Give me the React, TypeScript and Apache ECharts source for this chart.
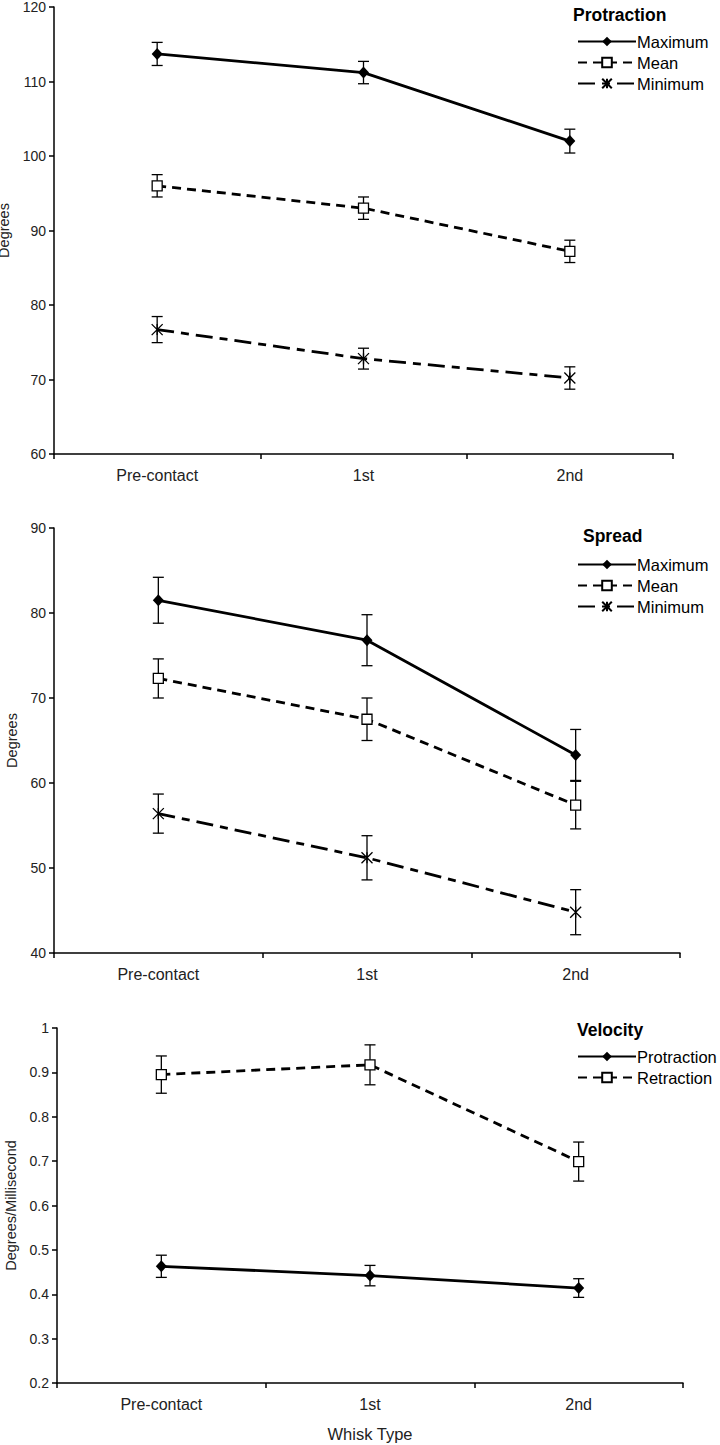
import React, { useEffect, useRef } from "react";
import * as echarts from "echarts";

const categories = ["Pre-contact", "1st", "2nd"];

const protMax = [113.7, 111.2, 102.0];
const protMaxErr = [1.55, 1.5, 1.6];
const protMean = [96.0, 93.0, 87.2];
const protMeanErr = [1.5, 1.5, 1.5];
const protMin = [76.7, 72.8, 70.2];
const protMinErr = [1.75, 1.4, 1.5];

const spreadMax = [81.5, 76.8, 63.3];
const spreadMaxErr = [2.7, 3.0, 3.0];
const spreadMean = [72.3, 67.5, 57.4];
const spreadMeanErr = [2.3, 2.5, 2.8];
const spreadMin = [56.4, 51.2, 44.8];
const spreadMinErr = [2.3, 2.6, 2.65];

const velProt = [0.463, 0.442, 0.414];
const velProtErr = [0.025, 0.023, 0.021];
const velRetr = [0.895, 0.917, 0.699];
const velRetrErr = [0.042, 0.045, 0.044];

const FONT = "'Liberation Sans', Arial, sans-serif";
const STAR = "path://M0,0L10,10M10,0L0,10M5,0L5,10";

function errData(vals: number[], errs: number[]) {
  return vals.map((v, i) => [i, v - errs[i], v + errs[i]]);
}

function errSeries(idx: number, vals: number[], errs: number[]) {
  return {
    type: "custom",
    xAxisIndex: idx,
    yAxisIndex: idx,
    silent: true,
    z: 1,
    data: errData(vals, errs),
    encode: { x: 0, y: [1, 2] },
    renderItem: (params: any, api: any) => {
      const x = api.value(0);
      const lo = api.coord([x, api.value(1)]);
      const hi = api.coord([x, api.value(2)]);
      const cx = lo[0];
      const w = 5.5;
      const style = { stroke: "#000", lineWidth: 1.3 };
      return {
        type: "group",
        children: [
          { type: "line", shape: { x1: cx, y1: lo[1], x2: cx, y2: hi[1] }, style },
          { type: "line", shape: { x1: cx - w, y1: lo[1], x2: cx + w, y2: lo[1] }, style },
          { type: "line", shape: { x1: cx - w, y1: hi[1], x2: cx + w, y2: hi[1] }, style },
        ],
      };
    },
  };
}

const styles: Record<string, any> = {
  max: { symbol: "diamond", symbolSize: [11, 12], lineType: "solid", fill: "#000" },
  mean: { symbol: "rect", symbolSize: 10, lineType: [9, 6], fill: "#fff" },
  min: { symbol: STAR, symbolSize: 11, lineType: [17, 7, 8, 7], fill: "#000" },
};

function lineSeries(idx: number, name: string, vals: number[], kind: string) {
  const s = styles[kind];
  return {
    type: "line",
    name,
    xAxisIndex: idx,
    yAxisIndex: idx,
    data: vals,
    symbol: s.symbol,
    symbolSize: s.symbolSize,
    showAllSymbol: true,
    z: 3,
    lineStyle: { color: "#000", width: 2.8, type: s.lineType },
    itemStyle: { color: s.fill, borderColor: "#000", borderWidth: kind === "max" ? 0 : 1.3 },
  };
}

const grids = [
  { left: 54, top: 7, width: 619, height: 447 },
  { left: 54, top: 528, width: 626, height: 425 },
  { left: 57, top: 1028, width: 626, height: 355 },
];

const yRanges = [
  { min: 60, max: 120, interval: 10, name: "Degrees", gap: 28 },
  { min: 40, max: 90, interval: 10, name: "Degrees", gap: 35 },
  { min: 0.2, max: 1, interval: 0.1, name: "Degrees/Millisecond", gap: 38 },
];

const axisLine = { lineStyle: { color: "#000", width: 1.5 } };
const yLabelStyle = { color: "#222", fontSize: 14, fontFamily: FONT };
const xLabelStyle = { color: "#222", fontSize: 16, fontFamily: FONT };

export default function App() {
  const ref = useRef<HTMLDivElement>(null);
  useEffect(() => {
    document.body.style.margin = "0";
    if (!ref.current) return;
    const chart = echarts.init(ref.current, undefined, { renderer: "svg" });
    const legendPos = [
      { left: 577, top: 33, title: "Protraction", titleTop: 6, titleLeft: 573, names: ["Maximum", "Mean", "Minimum"] },
      { left: 577, top: 556, title: "Spread", titleTop: 527, titleLeft: 583, names: ["Maximum", "Mean", "Minimum"] },
      { left: 577, top: 1048, title: "Velocity", titleTop: 1021, titleLeft: 577, names: ["Protraction", "Retraction"] },
    ];
    const option: any = {
      animation: false,
      backgroundColor: "#fff",
      textStyle: { fontFamily: FONT },
      title: legendPos.map((l) => ({
        text: l.title,
        left: l.titleLeft,
        top: l.titleTop,
        padding: 0,
        textStyle: { fontSize: 17.5, fontWeight: "bold", color: "#000", fontFamily: FONT },
      })),
      legend: legendPos.map((l) => ({
        orient: "vertical",
        left: l.left,
        top: l.top,
        padding: 0,
        itemGap: 4,
        itemWidth: 58,
        itemHeight: 12,
        selectedMode: false,
        data: l.names.map((n) => ({ name: n })),
        textStyle: { fontSize: 16.5, color: "#000", fontFamily: FONT, padding: [0, 0, 0, -4] },
      })),
      grid: grids.map((g) => ({ ...g, containLabel: false, outerBoundsMode: "none" })),
      xAxis: grids.map((g, i) => ({
        type: "category",
        gridIndex: i,
        data: categories,
        boundaryGap: true,
        axisLine,
        axisTick: { show: true, length: 5, lineStyle: { color: "#000", width: 1.5 } },
        axisLabel: { ...xLabelStyle, margin: 13 },
        splitLine: { show: false },
        name: i === 2 ? "Whisk Type" : "",
        nameLocation: "middle",
        nameGap: 42,
        nameTextStyle: { fontSize: 16.5, color: "#222", fontFamily: FONT },
      })),
      yAxis: yRanges.map((y, i) => ({
        type: "value",
        gridIndex: i,
        min: y.min,
        max: y.max,
        interval: y.interval,
        axisLine: { show: true, ...axisLine },
        axisTick: { show: true, length: 5, lineStyle: { color: "#000", width: 1.5 } },
        axisLabel: { ...yLabelStyle, margin: 8 },
        splitLine: { show: false },
        name: y.name,
        nameLocation: "middle",
        nameRotate: 90,
        nameGap: y.gap,
        nameTextStyle: { fontSize: 14.5, color: "#222", fontFamily: FONT },
      })),
      series: [
        errSeries(0, protMax, protMaxErr),
        errSeries(0, protMean, protMeanErr),
        errSeries(0, protMin, protMinErr),
        lineSeries(0, "Maximum", protMax, "max"),
        lineSeries(0, "Mean", protMean, "mean"),
        lineSeries(0, "Minimum", protMin, "min"),
        errSeries(1, spreadMax, spreadMaxErr),
        errSeries(1, spreadMean, spreadMeanErr),
        errSeries(1, spreadMin, spreadMinErr),
        lineSeries(1, "Maximum", spreadMax, "max"),
        lineSeries(1, "Mean", spreadMean, "mean"),
        lineSeries(1, "Minimum", spreadMin, "min"),
        errSeries(2, velProt, velProtErr),
        errSeries(2, velRetr, velRetrErr),
        lineSeries(2, "Protraction", velProt, "max"),
        lineSeries(2, "Retraction", velRetr, "mean"),
      ],
    };
    chart.setOption(option);
    return () => chart.dispose();
  }, []);
  return <div ref={ref} style={{ width: 720, height: 1445 }} />;
}
